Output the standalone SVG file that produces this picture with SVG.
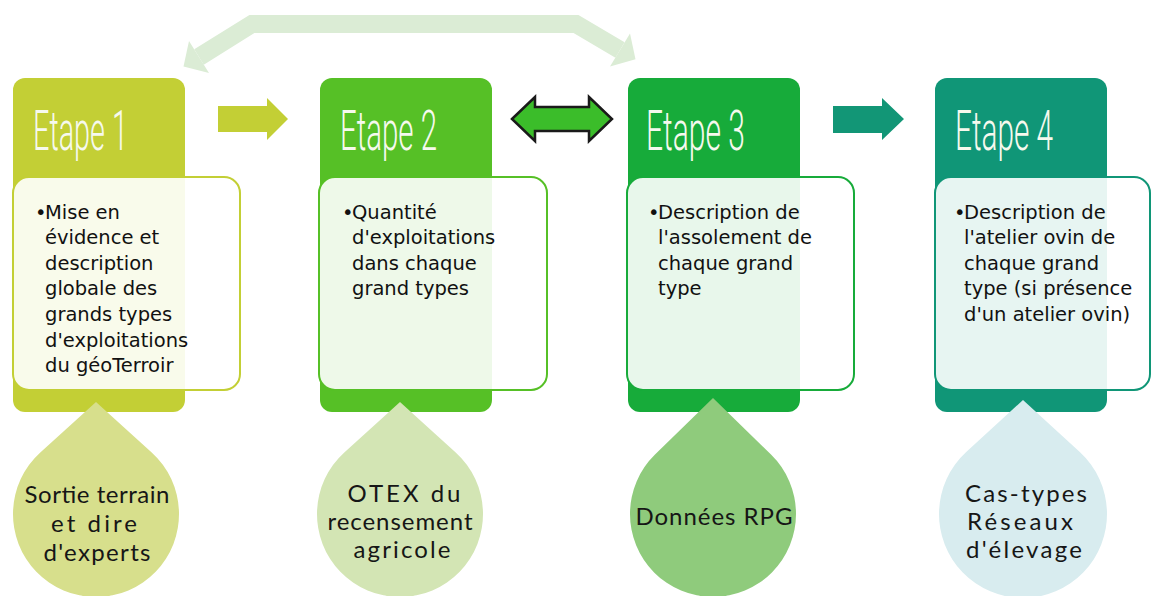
<svg xmlns="http://www.w3.org/2000/svg" width="1151" height="596" viewBox="0 0 1151 596">
  <defs>
    <style>
      .title { font-family: Roboto, "Liberation Sans", sans-serif; font-weight: 300; font-size: 56px; fill: #f6f9ee; }
      .body { font-family: "DejaVu Sans", Verdana, sans-serif; font-size: 19.5px; fill: #111111; }
      .drop-text { font-family: Lato, "Open Sans", sans-serif; font-weight: 400; font-size: 24px; fill: #161616; text-anchor: middle; }
      .card { fill: #ffffff; fill-opacity: 0.9; stroke-width: 2; }
    </style>
  </defs>
  <rect width="1151" height="596" fill="#ffffff"/>

  <!-- connectors -->
  <g id="connectors">
    <!-- return arrow across the top, from step 1 to step 3 -->
    <g id="loop-arrow" fill="#dbecd5">
      <path d="M199,57 L252,24 L576,24 L620,50" fill="none" stroke="#dbecd5" stroke-width="18" stroke-linejoin="miter"/>
      <polygon points="209,73 189,41 183.5,66.5"/>
      <polygon points="610,66.5 630,33.5 635.5,59.2"/>
    </g>
    <polygon id="arrow-1-2" points="218,106 267,106 267,98 288,119 267,140 267,132 218,132" fill="#c3cf35"/>
    <polygon id="arrow-2-3" points="512,119 535,97 535,107 589,107 589,97 612,119 589,141 589,131 535,131 535,141" fill="#3bbd2a" stroke="#1a1a1a" stroke-width="2.5" stroke-linejoin="miter"/>
    <polygon id="arrow-3-4" points="833,106 882,106 882,98 904,119 882,140 882,133 833,133" fill="#129676"/>
  </g>

  <!-- Step 1 -->
  <g id="step1">
    <rect x="13" y="78" width="172" height="334" rx="12" fill="#c3cf35"/>
    <text class="title" x="33" y="150" textLength="95" lengthAdjust="spacingAndGlyphs">Etape 1</text>
    <rect class="card" x="13" y="177" width="227" height="213" rx="16" stroke="#c3cf35"/>
    <text class="body">
      <tspan x="35" y="218.5">•</tspan><tspan x="45" y="218.5">Mise en</tspan>
      <tspan x="45" y="244.1">évidence et</tspan>
      <tspan x="45" y="269.7">description</tspan>
      <tspan x="45" y="295.3">globale des</tspan>
      <tspan x="45" y="320.9">grands types</tspan>
      <tspan x="45" y="346.5">d'exploitations</tspan>
      <tspan x="45" y="372.1">du géoTerroir</tspan>
    </text>
  </g>

  <!-- Step 2 -->
  <g id="step2">
    <rect x="320" y="78" width="172" height="334" rx="12" fill="#56c026"/>
    <text class="title" x="340" y="150" textLength="97" lengthAdjust="spacingAndGlyphs">Etape 2</text>
    <rect class="card" x="319" y="177" width="228" height="213" rx="16" stroke="#56c026"/>
    <text class="body">
      <tspan x="342" y="218.5">•</tspan><tspan x="352" y="218.5">Quantité</tspan>
      <tspan x="352" y="244.1">d'exploitations</tspan>
      <tspan x="352" y="269.7">dans chaque</tspan>
      <tspan x="352" y="295.3">grand types</tspan>
    </text>
  </g>

  <!-- Step 3 -->
  <g id="step3">
    <rect x="628" y="78" width="172" height="334" rx="12" fill="#17ab3a"/>
    <text class="title" x="646" y="150" textLength="99" lengthAdjust="spacingAndGlyphs">Etape 3</text>
    <rect class="card" x="627" y="177" width="227" height="213" rx="16" stroke="#17ab3a"/>
    <text class="body">
      <tspan x="648" y="218.5">•</tspan><tspan x="658" y="218.5">Description de</tspan>
      <tspan x="658" y="244.1">l'assolement de</tspan>
      <tspan x="658" y="269.7">chaque grand</tspan>
      <tspan x="658" y="295.3">type</tspan>
    </text>
  </g>

  <!-- Step 4 -->
  <g id="step4">
    <rect x="935" y="78" width="172" height="334" rx="12" fill="#109677"/>
    <text class="title" x="955" y="150" textLength="98" lengthAdjust="spacingAndGlyphs">Etape 4</text>
    <rect class="card" x="935" y="177" width="215" height="213" rx="16" stroke="#109677"/>
    <text class="body">
      <tspan x="954" y="218.5">•</tspan><tspan x="964" y="218.5">Description de</tspan>
      <tspan x="964" y="244.1">l'atelier ovin de</tspan>
      <tspan x="964" y="269.7">chaque grand</tspan>
      <tspan x="964" y="295.3">type (si présence</tspan>
      <tspan x="964" y="320.9">d'un atelier ovin)</tspan>
    </text>
  </g>

  <!-- Data sources (drops) -->
  <g id="source1">
    <path d="M96,402 L40.3,452.5 A83,83 0 1 0 151.7,452.5 Z" fill="#d7df8c"/>
    <text class="drop-text" x="97" y="503" textLength="145">Sortie terrain</text>
    <text class="drop-text" x="94" y="532" textLength="86">et dire</text>
    <text class="drop-text" x="97" y="561" textLength="107">d'experts</text>
  </g>
  <g id="source2">
    <path d="M400,402 L344.3,452.5 A83,83 0 1 0 455.7,452.5 Z" fill="#d3e5b4"/>
    <text class="drop-text" x="404" y="502" textLength="113">OTEX du</text>
    <text class="drop-text" x="400" y="530" textLength="145">recensement</text>
    <text class="drop-text" x="402" y="558" textLength="97">agricole</text>
  </g>
  <g id="source3">
    <path d="M713,398 L655,454.6 A83,83 0 1 0 771,454.6 Z" fill="#8fcb7c"/>
    <text class="drop-text" x="714" y="525" textLength="157">Données RPG</text>
  </g>
  <g id="source4">
    <path d="M1023,400 L966.2,452.1 A84,84 0 1 0 1079.8,452.1 Z" fill="#d8ecef"/>
    <text class="drop-text" x="1026" y="502" textLength="122">Cas-types</text>
    <text class="drop-text" x="1020" y="530" textLength="106">Réseaux</text>
    <text class="drop-text" x="1024" y="558" textLength="116">d'élevage</text>
  </g>
</svg>
